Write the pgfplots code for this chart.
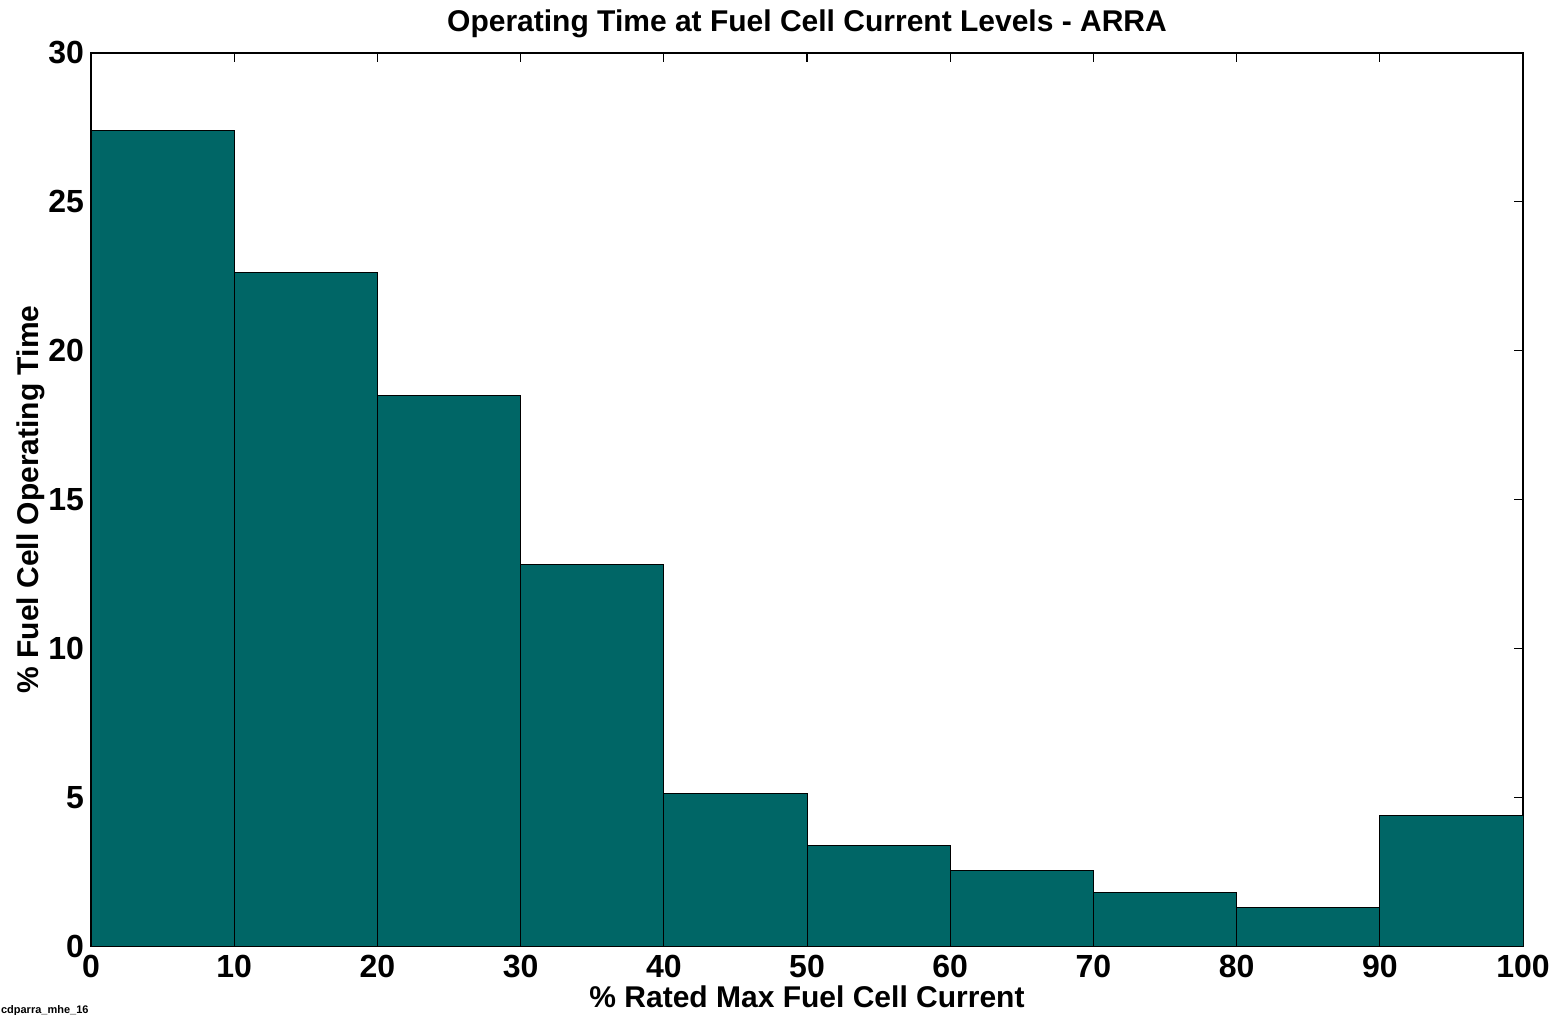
\documentclass[border=0pt]{standalone}
\usepackage{pgfplots}
\pgfplotsset{compat=1.18}
\usepackage{fontspec}
\setmainfont{Liberation Sans}
\definecolor{barteal}{RGB}{0,102,102}
\begin{document}
\begin{tikzpicture}
\path[use as bounding box] (0pt,0pt) rectangle (778.5pt,507pt);
\begin{axis}[
    at={(45.5pt,34pt)}, anchor=south west,
    scale only axis,
    width=716pt, height=446.5pt,
    xmin=0, xmax=100, ymin=0, ymax=30,
    xtick={0,10,...,100},
    ytick={0,5,...,30},
    tick align=inside,
    major tick length=4.5pt,
    axis line style={line width=1pt},
    tick style={black, line width=0.6pt},
    /pgf/number format/assume math mode=true,
    ticklabel style={font=\fontsize{16}{18}\selectfont\bfseries},
    xticklabel style={yshift=-1pt},
    title={Operating Time at Fuel Cell Current Levels - ARRA},
    title style={font=\fontsize{15}{17}\selectfont\bfseries, yshift=-2pt},
    xlabel={\% Rated Max Fuel Cell Current},
    ylabel={\% Fuel Cell Operating Time},
    label style={font=\fontsize{15}{17}\selectfont\bfseries},
    xlabel style={yshift=3pt},
    ylabel style={yshift=-5pt},
]
\addplot[ybar interval, fill=barteal, draw=black, line width=0.5pt] coordinates {
    (0,27.41) (10,22.61) (20,18.51) (30,12.83) (40,5.14)
    (50,3.36) (60,2.55) (70,1.81) (80,1.28) (90,4.37) (100,4.37)
};
\end{axis}
\node[anchor=west, font=\fontsize{5.5}{6}\selectfont\bfseries] at (-3pt,1.5pt) {cdparra\_mhe\_16};
\end{tikzpicture}
\end{document}
